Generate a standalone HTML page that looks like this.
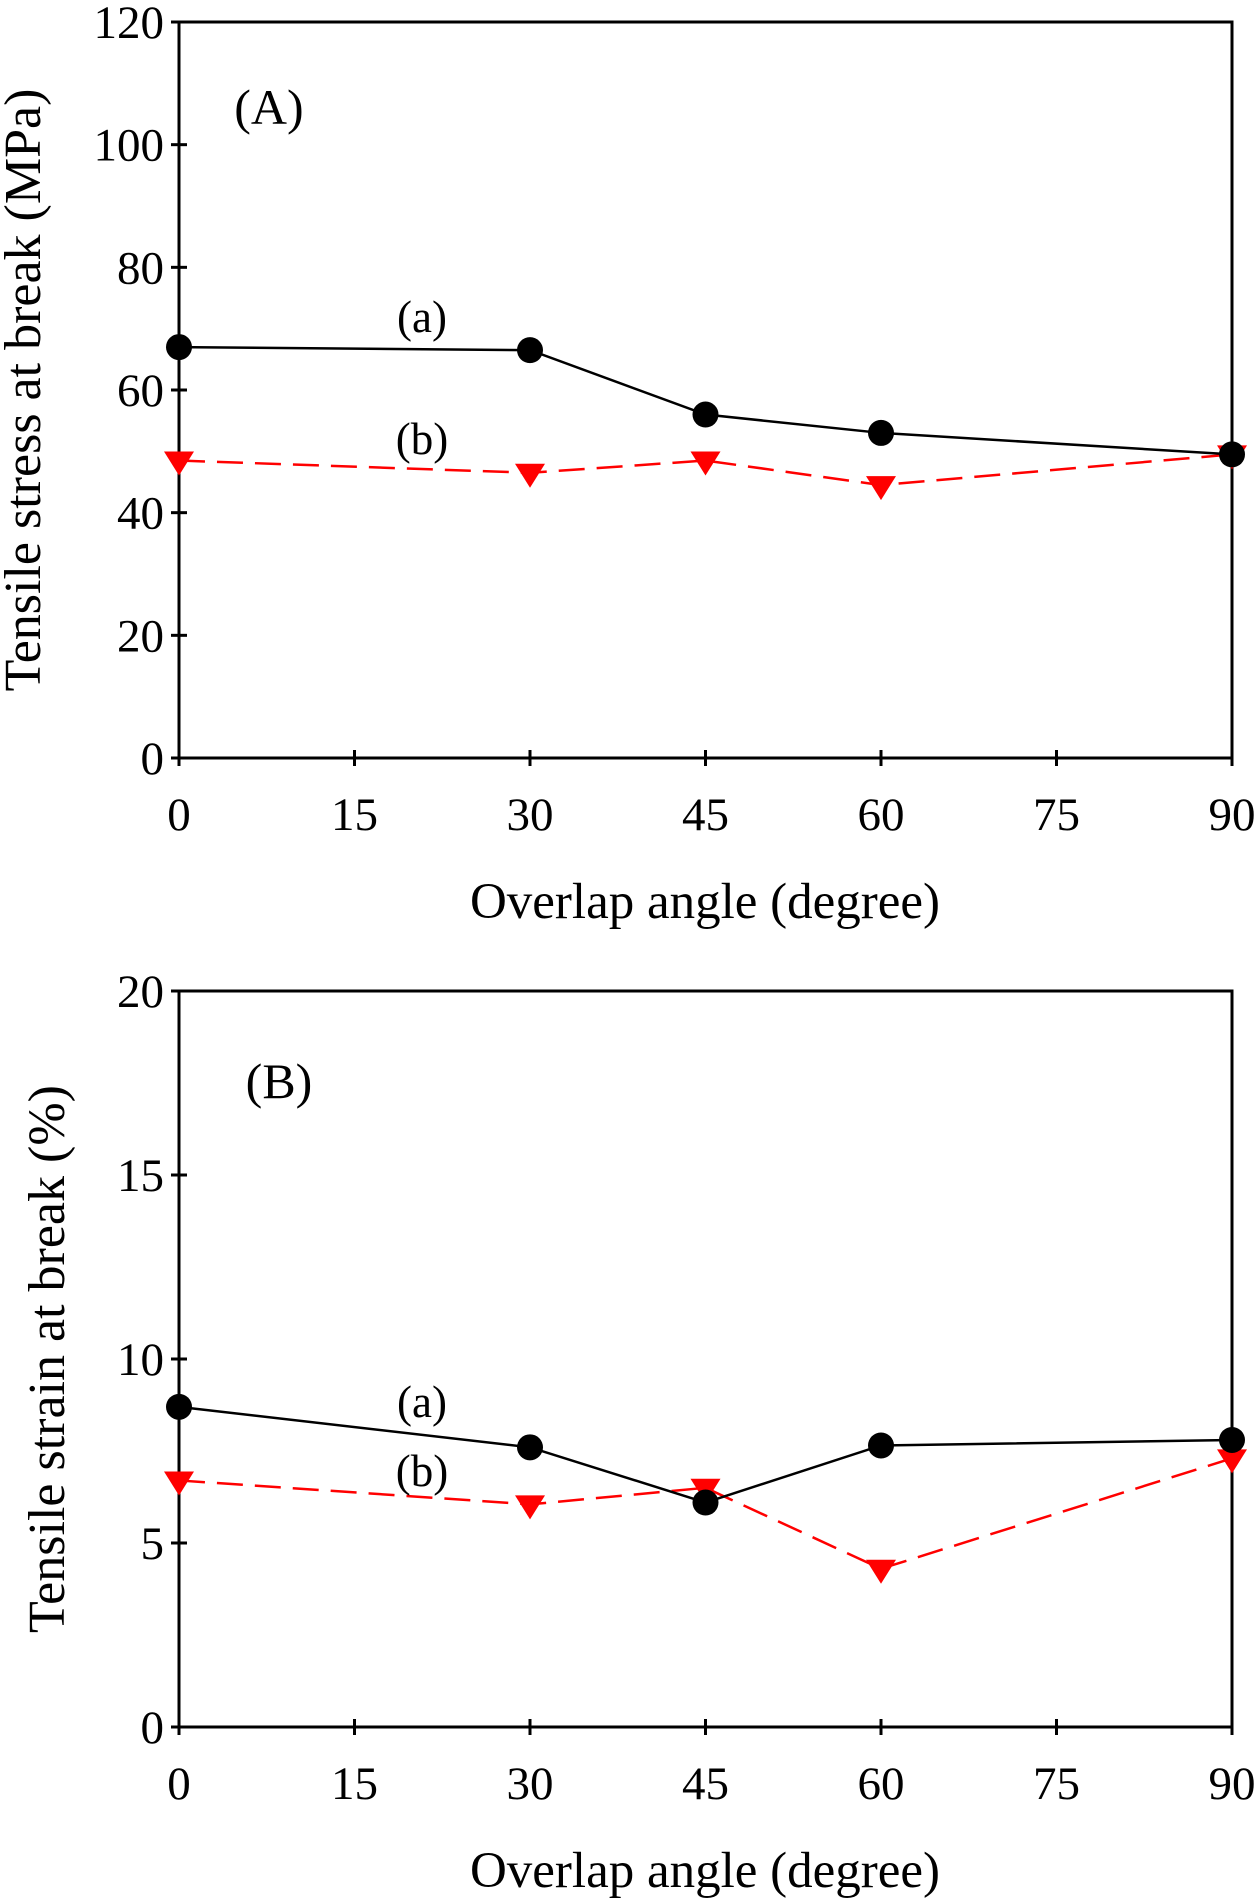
<!DOCTYPE html>
<html><head><meta charset="utf-8"><style>
html,body{margin:0;padding:0;background:#fff;}
svg{display:block;}
text{font-family:"Liberation Serif",serif;fill:#000;}
</style></head><body>
<svg id="c" width="1254" height="1902" xmlns="http://www.w3.org/2000/svg"></svg>
<script>
const xCats = [0, 30, 45, 60, 90];
const xTicks = [0, 15, 30, 45, 60, 75, 90];
const stressA = [67, 66.5, 56, 53, 49.5];
const stressB = [48.5, 46.5, 48.5, 44.5, 49.5];
const stressTicks = [0, 20, 40, 60, 80, 100, 120];
const strainA = [8.7, 7.6, 6.1, 7.65, 7.8];
const strainB = [6.7, 6.05, 6.5, 4.3, 7.3];
const strainTicks = [0, 5, 10, 15, 20];

const NS = "http://www.w3.org/2000/svg";
const svg = document.getElementById('c');
function mk(tag, attrs, parent) {
  const e = document.createElementNS(NS, tag);
  for (const k in attrs) e.setAttribute(k, attrs[k]);
  (parent || svg).appendChild(e);
  return e;
}
const X0 = 179, X1 = 1232;
function xs(v) { return X0 + (v - 0) / 90 * (X1 - X0); }

function panel(cfg) {
  const g = mk('g', {});
  
  
  const ys = v => cfg.yb - (v - cfg.ymin) / (cfg.ymax - cfg.ymin) * (cfg.yb - cfg.yt);
  const frame = mk('rect', {x: X0, y: cfg.yt, width: X1 - X0, height: cfg.yb - cfg.yt, fill: 'none', stroke: '#000', 'stroke-width': 3}, g);
  
  
  cfg.yTicks.forEach(t => {
    const y = ys(t);
    const tk = mk('line', {x1: X0 - 8, x2: X0 + 8, y1: y, y2: y, stroke: '#000', 'stroke-width': 3}, g);
    
    
    const lb = mk('text', {x: X0 - 15, y: y + 16, 'text-anchor': 'end', 'font-size': 47}, g);
    lb.textContent = t;
    
    
  });
  xTicks.forEach(t => {
    const x = xs(t);
    const tk = mk('line', {x1: x, x2: x, y1: cfg.yb - 8, y2: cfg.yb + 8, stroke: '#000', 'stroke-width': 3}, g);
    
    
    const lb = mk('text', {x: x, y: cfg.yb + 72, 'text-anchor': 'middle', 'font-size': 47}, g);
    lb.textContent = t;
    
    
  });
  const xt = mk('text', {x: 705, y: cfg.yb + 160, 'text-anchor': 'middle', 'font-size': 51}, g);
  xt.textContent = 'Overlap angle (degree)';
  
  
  const yt = mk('text', {x: 0, y: 0, 'text-anchor': 'middle', 'font-size': 52, transform: `translate(${cfg.ytx},${(cfg.yt + cfg.yb) / 2}) rotate(-90)`}, g);
  yt.textContent = cfg.ytitle;
  
  
  const pb = xCats.map((c, i) => xs(c) + ',' + ys(cfg.b[i])).join(' ');
  const lb2 = mk('polyline', {points: pb, fill: 'none', stroke: '#ff0000', 'stroke-width': 2.5, 'stroke-dasharray': '26,12'}, g);
  
  
  const pa = xCats.map((c, i) => xs(c) + ',' + ys(cfg.a[i])).join(' ');
  const la = mk('polyline', {points: pa, fill: 'none', stroke: '#000', 'stroke-width': 2.5}, g);
  
  
  xCats.forEach((c, i) => {
    const x = xs(c), y = ys(cfg.b[i]);
    const tr = mk('polygon', {points: `${x - 15},${y - 9} ${x + 15},${y - 9} ${x},${y + 15}`, fill: '#ff0000'}, g);
    
    
  });
  xCats.forEach((c, i) => {
    const ci = mk('circle', {cx: xs(c), cy: ys(cfg.a[i]), r: 13, fill: '#000'}, g);
    
    
  });
  const tA = mk('text', {x: 422, y: cfg.la, 'text-anchor': 'middle', 'font-size': 45}, g);
  tA.textContent = '(a)';
  
  
  const tB = mk('text', {x: 422, y: cfg.lb, 'text-anchor': 'middle', 'font-size': 45}, g);
  tB.textContent = '(b)';
  
  
  const pl = mk('text', {x: cfg.px, y: cfg.py, 'text-anchor': 'middle', 'font-size': 50}, g);
  pl.textContent = cfg.plabel;
  
  
}

panel({name: 'panel-a-stress', yt: 22, yb: 758, ymin: 0, ymax: 120, yTicks: stressTicks, a: stressA, b: stressB,
  ytitle: 'Tensile stress at break (MPa)', ytx: 40, la: 332, lb: 454, plabel: '(A)', px: 269, py: 124});
panel({name: 'panel-b-strain', yt: 991, yb: 1727, ymin: 0, ymax: 20, yTicks: strainTicks, a: strainA, b: strainB,
  ytitle: 'Tensile strain at break (%)', ytx: 64, la: 1417, lb: 1486, plabel: '(B)', px: 279, py: 1098});
</script>
</body></html>
